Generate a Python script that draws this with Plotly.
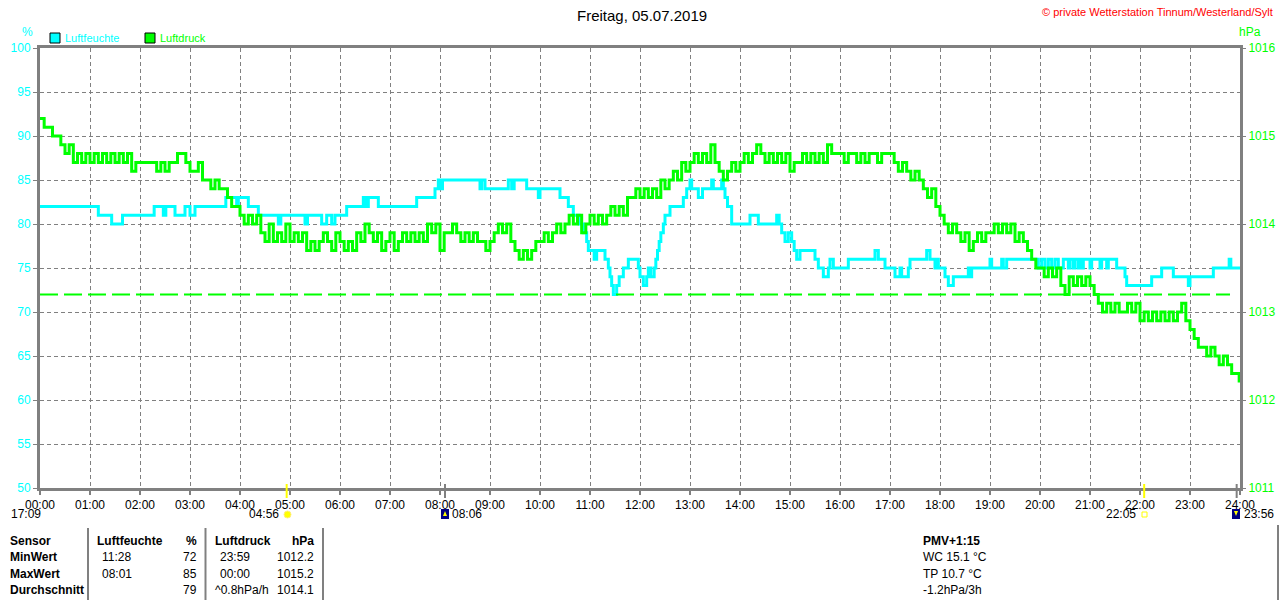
import plotly.graph_objects as go

# Tagesdaten 05.07.2019
title_text = "Freitag, 05.07.2019"
copyright_text = "© private Wetterstation Tinnum/Westerland/Sylt"

hour_ticks = list(range(0, 25))
hour_labels = ["%02d:00" % h for h in hour_ticks]

# Luftdruck (hPa), alle 5 Minuten ab 00:00, letzter Wert 23:59
p_step = 5
p_vals = [
    1015.2, 1015.1, 1015.1, 1015.0, 1015.0, 1014.9, 1014.8, 1014.9, 1014.7, 1014.8, 1014.7, 1014.8,  # 00
    1014.7, 1014.8, 1014.7, 1014.8, 1014.7, 1014.8, 1014.7, 1014.8, 1014.7, 1014.8, 1014.6, 1014.7,  # 01
    1014.7, 1014.7, 1014.7, 1014.7, 1014.6, 1014.7, 1014.6, 1014.7, 1014.7, 1014.8, 1014.8, 1014.7,  # 02
    1014.6, 1014.6, 1014.7, 1014.5, 1014.5, 1014.4, 1014.5, 1014.4, 1014.4, 1014.3, 1014.2, 1014.2,  # 03
    1014.1, 1014.0, 1014.1, 1014.0, 1014.1, 1013.9, 1013.8, 1014.0, 1013.8, 1013.9, 1013.8, 1014.0,  # 04
    1013.8, 1013.9, 1013.8, 1013.9, 1013.7, 1013.8, 1013.7, 1013.8, 1013.9, 1013.8, 1013.7, 1013.9,  # 05
    1013.8, 1013.7, 1013.8, 1013.7, 1013.9, 1013.8, 1014.0, 1013.9, 1013.8, 1013.9, 1013.7, 1013.8,  # 06
    1013.9, 1013.7, 1013.8, 1013.9, 1013.8, 1013.9, 1013.8, 1013.9, 1013.8, 1014.0, 1013.9, 1014.0,  # 07
    1013.7, 1013.9, 1013.9, 1014.0, 1013.9, 1013.8, 1013.9, 1013.8, 1013.9, 1013.8, 1013.8, 1013.7,  # 08
    1013.8, 1013.9, 1014.0, 1013.9, 1014.0, 1013.8, 1013.7, 1013.6, 1013.7, 1013.6, 1013.7, 1013.8,  # 09
    1013.8, 1013.9, 1013.8, 1013.9, 1014.0, 1013.9, 1014.0, 1014.1, 1014.0, 1014.1, 1013.9, 1014.0,  # 10
    1014.1, 1014.0, 1014.1, 1014.0, 1014.1, 1014.2, 1014.1, 1014.2, 1014.1, 1014.3, 1014.3, 1014.4,  # 11
    1014.3, 1014.4, 1014.3, 1014.4, 1014.3, 1014.5, 1014.4, 1014.5, 1014.6, 1014.5, 1014.7, 1014.6,  # 12
    1014.7, 1014.8, 1014.7, 1014.8, 1014.7, 1014.9, 1014.7, 1014.6, 1014.5, 1014.6, 1014.7, 1014.6,  # 13
    1014.7, 1014.8, 1014.7, 1014.8, 1014.9, 1014.8, 1014.7, 1014.8, 1014.7, 1014.8, 1014.7, 1014.8,  # 14
    1014.6, 1014.7, 1014.7, 1014.8, 1014.7, 1014.8, 1014.7, 1014.8, 1014.7, 1014.9, 1014.8, 1014.8,  # 15
    1014.8, 1014.7, 1014.8, 1014.8, 1014.7, 1014.8, 1014.7, 1014.8, 1014.8, 1014.7, 1014.8, 1014.8,  # 16
    1014.8, 1014.7, 1014.6, 1014.7, 1014.6, 1014.5, 1014.6, 1014.5, 1014.4, 1014.3, 1014.4, 1014.2,  # 17
    1014.1, 1014.0, 1013.9, 1014.0, 1013.9, 1013.8, 1013.9, 1013.7, 1013.8, 1013.9, 1013.8, 1013.9,  # 18
    1013.9, 1014.0, 1013.9, 1014.0, 1013.9, 1014.0, 1013.8, 1013.9, 1013.8, 1013.7, 1013.6, 1013.5,  # 19
    1013.5, 1013.4, 1013.5, 1013.4, 1013.5, 1013.3, 1013.2, 1013.4, 1013.3, 1013.4, 1013.3, 1013.4,  # 20
    1013.3, 1013.2, 1013.1, 1013.0, 1013.1, 1013.0, 1013.1, 1013.0, 1013.0, 1013.1, 1013.0, 1013.1,  # 21
    1012.9, 1013.0, 1012.9, 1013.0, 1012.9, 1013.0, 1012.9, 1013.0, 1012.9, 1013.0, 1013.1, 1012.9,  # 22
    1012.8, 1012.7, 1012.6, 1012.6, 1012.5, 1012.6, 1012.5, 1012.4, 1012.5, 1012.4, 1012.3, 1012.3,  # 23
    1012.2,
]

# Luftfeuchte (%), Wechselzeitpunkte
h_times = [
    "00:00", "01:10", "01:26", "01:39", "02:17", "02:28", "02:31", "02:42", "02:54", "03:00",
    "03:06", "03:43", "03:56", "03:58", "04:10", "04:22", "04:46", "04:49", "05:18", "05:21",
    "05:38", "05:44", "05:50", "05:54", "06:08", "06:28", "06:31", "06:34", "06:46", "07:32",
    "07:54", "07:58", "08:00", "08:03", "08:48", "08:50", "08:54", "09:22", "09:26", "09:29",
    "09:44", "09:58", "10:00", "10:24", "10:34", "10:40", "10:47", "10:52", "10:56", "10:58",
    "11:05", "11:08", "11:18", "11:22", "11:24", "11:26", "11:28", "11:32", "11:35", "11:40",
    "11:46", "11:58", "12:00", "12:04", "12:08", "12:10", "12:13", "12:17", "12:19", "12:21",
    "12:23", "12:25", "12:28", "12:30", "12:36", "12:52", "12:56", "13:00", "13:02", "13:10",
    "13:15", "13:26", "13:28", "13:38", "13:40", "13:42", "13:45", "13:50", "14:12", "14:22",
    "14:44", "14:47", "14:50", "14:54", "14:58", "15:02", "15:05", "15:08", "15:12", "15:30",
    "15:34", "15:40", "15:46", "15:48", "15:52", "16:10", "16:42", "16:46", "16:54", "17:06",
    "17:12", "17:14", "17:22", "17:24", "17:44", "17:48", "17:54", "17:56", "17:58", "18:06",
    "18:10", "18:16", "18:34", "18:36", "18:38", "19:00", "19:02", "19:14", "19:16", "19:20",
    "19:58", "20:02", "20:06", "20:10", "20:14", "20:18", "20:22", "20:28", "20:34", "20:36",
    "20:40", "20:42", "20:46", "20:48", "20:50", "20:52", "21:00", "21:02", "21:12", "21:14",
    "21:20", "21:22", "21:32", "21:42", "21:44", "22:14", "22:26", "22:40", "22:58", "23:00",
    "23:28", "23:47", "23:49", "24:00",
]
h_vals = [
    82, 81, 80, 81, 82, 81, 82, 81, 82, 81,
    82, 83, 82, 83, 82, 81, 80, 81, 80, 81,
    80, 81, 80, 81, 82, 83, 82, 83, 82, 83,
    84, 85, 84, 85, 84, 85, 84, 85, 84, 85,
    84, 83, 84, 83, 82, 81, 80, 79, 78, 77,
    76, 77, 76, 75, 74, 73, 72, 73, 74, 75,
    76, 75, 74, 73, 74, 75, 74, 75, 76, 77,
    78, 79, 80, 81, 82, 83, 84, 85, 84, 83,
    84, 85, 84, 85, 84, 83, 82, 80, 81, 80,
    81, 80, 79, 78, 79, 78, 77, 76, 77, 76,
    75, 74, 75, 76, 75, 76, 77, 76, 75, 74,
    75, 74, 75, 76, 77, 76, 75, 76, 75, 74,
    73, 74, 75, 74, 75, 76, 75, 76, 75, 76,
    75, 76, 75, 76, 75, 76, 75, 76, 75, 76,
    75, 76, 75, 76, 75, 76, 75, 76, 75, 76,
    75, 76, 75, 74, 73, 74, 75, 74, 73, 74,
    75, 76, 75, 75,
]

p_ref = 1013.2          # gestrichelte Linie
p_ref_end = "23:48"

# Sonne / Mond
sun_rise, sun_set = "04:56", "22:05"
moon_rise, moon_set = "08:06", "23:56"
moon_prev = "17:09"

# Tabelle unten
tab_rows = ["Sensor", "MinWert", "MaxWert", "Durchschnitt"]
hum_col = [("Luftfeuchte", "%"), ("11:28", "72"), ("08:01", "85"), ("", "79")]
prs_col = [("Luftdruck", "hPa"), ("23:59", "1012.2"), ("00:00", "1015.2"), ("^0.8hPa/h", "1014.1")]
extra_col = ["PMV+1:15", "WC 15.1 °C", "TP 10.7 °C", "-1.2hPa/3h"]

CYAN = "#00FFFF"
GREEN = "#00FF00"
GRAY = "#808080"
FONT = "Liberation Sans"


def hrs(t):
    hh, mm = t.split(":")
    return int(hh) + int(mm) / 60.0


p_x = [i * p_step / 60.0 for i in range(len(p_vals) - 1)] + [23 + 59 / 60.0]
h_x = [hrs(t) for t in h_times]

# Pixelhilfen fuer Deko (Plotbereich 40..1240 x 48..488)
def px(x):
    return (x - 40) / 1200.0


def py(y):
    return (488 - y) / 440.0


fig = go.Figure()

fig.add_trace(go.Scatter(x=[0, hrs(p_ref_end)], y=[p_ref, p_ref], yaxis="y2", mode="lines",
                         line=dict(color=GREEN, width=2, dash="18px,6px"), hoverinfo="skip"))
fig.add_trace(go.Scatter(x=p_x, y=p_vals, yaxis="y2", mode="lines", name="Luftdruck",
                         line=dict(color=GREEN, width=3, shape="hv")))
fig.add_trace(go.Scatter(x=h_x, y=h_vals, mode="lines", name="Luftfeuchte",
                         line=dict(color=CYAN, width=3, shape="hv")))

fig.update_layout(
    width=1280, height=600,
    margin=dict(l=40, r=40, t=48, b=112, autoexpand=False),
    paper_bgcolor="white", plot_bgcolor="white",
    showlegend=False,
    font=dict(family=FONT, size=12, color="black"),
    xaxis=dict(range=[0, 24], tickvals=hour_ticks, ticktext=hour_labels, automargin=False,
               showgrid=True, gridcolor=GRAY, griddash="4px,3px", gridwidth=1,
               showline=True, linecolor=GRAY, linewidth=3, mirror=True,
               ticks="outside", ticklen=4, tickcolor=GRAY, tickwidth=2,
               tickfont=dict(color="black", size=12), zeroline=False, fixedrange=True),
    yaxis=dict(range=[50, 100], dtick=5, showgrid=True, gridcolor=GRAY, griddash="4px,3px",
               showline=True, linecolor=GRAY, linewidth=3, mirror=True, automargin=False,
               ticks="outside", ticklen=4, tickcolor=GRAY, tickwidth=1,
               tickfont=dict(color=CYAN, size=12), zeroline=False),
    yaxis2=dict(range=[1011, 1016], dtick=1, overlaying="y", side="right", showgrid=False,
                ticks="outside", ticklen=5, tickcolor=GRAY, tickwidth=1, automargin=False,
                tickfont=dict(color=GREEN, size=12), zeroline=False, showline=False),
)

ann = []
shp = []


def text(x, y, s, color="black", size=12, anchor="left", bold=False):
    if bold:
        s = "<b>" + s + "</b>"
    ann.append(dict(x=px(x), y=py(y), xref="paper", yref="paper", text=s, showarrow=False,
                    xanchor=anchor, yanchor="middle", font=dict(color=color, size=size, family=FONT)))


text(642, 15, title_text, size=15, anchor="center")
text(1275, 12, copyright_text, color="#FF0000", size=11, anchor="right")
text(27, 32, "%", color=CYAN, anchor="center")
text(1250, 32, "hPa", color=GREEN, anchor="center")

# Legende
for x0, col, lab in [(50, CYAN, "Luftfeuchte"), (145, GREEN, "Luftdruck")]:
    shp.append(dict(type="rect", xref="paper", yref="paper", x0=px(x0), x1=px(x0 + 10),
                    y0=py(43), y1=py(33), fillcolor=col, line=dict(color="black", width=1)))
    text(x0 + 13, 38, lab, color=col, size=11)

# Sonne/Mond-Markierungen an der Zeitachse
for t, col in [(sun_rise, "#FFFF00"), (sun_set, "#FFFF00"), (moon_rise, GRAY), (moon_set, GRAY)]:
    shp.append(dict(type="line", xref="x", yref="paper", x0=hrs(t), x1=hrs(t),
                    y0=py(484), y1=py(498), line=dict(color=col, width=2)))

text(9, 514, moon_prev)
shp.append(dict(type="path", xref="paper", yref="paper",
                path="M %f,%f A 1 1 0 0 1 %f,%f Z" % (px(41), py(517), px(49), py(517)),
                fillcolor="#FFFF00", line=dict(color="#FFFF00", width=1)))
text(281, 514, sun_rise, anchor="right")
shp.append(dict(type="circle", xref="paper", yref="paper", x0=px(284), x1=px(291),
                y0=py(518), y1=py(511), fillcolor="#FFFF00", line=dict(color="#FFEE80", width=1)))
text(450, 514, moon_rise)
shp.append(dict(type="rect", xref="paper", yref="paper", x0=px(441), x1=px(449),
                y0=py(519), y1=py(509), fillcolor="#000080", line=dict(width=0)))
shp.append(dict(type="path", xref="paper", yref="paper",
                path="M %f,%f L %f,%f L %f,%f Z" % (px(443), py(516), px(447), py(516), px(445), py(511)),
                fillcolor="#FFFF00", line=dict(width=0)))
text(1138, 514, sun_set, anchor="right")
shp.append(dict(type="rect", xref="paper", yref="paper", x0=px(1142), x1=px(1147),
                y0=py(517), y1=py(512), fillcolor="white", line=dict(color="#FFFF00", width=1)))
text(1242, 514, moon_set)
shp.append(dict(type="rect", xref="paper", yref="paper", x0=px(1232), x1=px(1240),
                y0=py(519), y1=py(509), fillcolor="#000080", line=dict(width=0)))
shp.append(dict(type="path", xref="paper", yref="paper",
                path="M %f,%f L %f,%f L %f,%f Z" % (px(1234), py(511), px(1238), py(511), px(1236), py(516)),
                fillcolor="#FFFF00", line=dict(width=0)))

# Tabelle
row_y = [541, 557, 574, 590]
for i, y in enumerate(row_y):
    text(8, y, tab_rows[i], bold=True)
    hd = (i == 0)
    text(95 if hd else 100, y, hum_col[i][0], bold=hd)
    text(199, y, hum_col[i][1], anchor="right", bold=hd)
    text(213 if (hd or i == 3) else 218, y, prs_col[i][0], bold=hd)
    text(316, y, prs_col[i][1], anchor="right", bold=hd)
    text(921, y, extra_col[i], bold=hd)

for xv in [88, 205.5, 323]:
    shp.append(dict(type="line", xref="paper", yref="paper", x0=px(xv), x1=px(xv),
                    y0=py(528), y1=py(600), line=dict(color=GRAY, width=2)))
shp.append(dict(type="line", xref="paper", yref="paper", x0=px(1278), x1=px(1278),
                y0=py(525), y1=py(600), line=dict(color=GRAY, width=2)))

fig.update_layout(annotations=ann, shapes=shp)
fig.write_html("out.html", config={"displayModeBar": False},
               post_script="document.body.style.margin='0';document.body.style.overflow='hidden';")
